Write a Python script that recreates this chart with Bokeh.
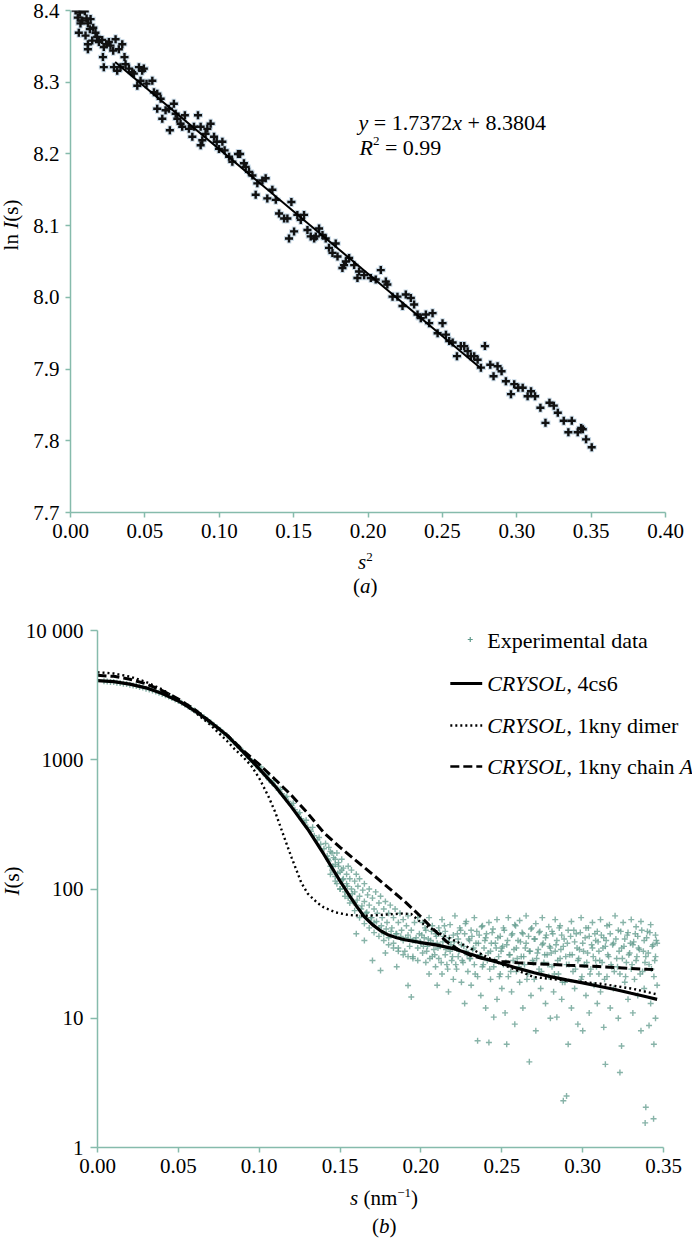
import math
from bokeh.plotting import figure
from bokeh.layouts import column, row
from bokeh.models import Label, FixedTicker, NumeralTickFormatter, Range1d, Div
from bokeh.embed import file_html
from bokeh.resources import INLINE

FONT = "Liberation Serif"
AXIS_COLOR = "#86bbac"
EXP_COLOR = "#5f998b"

# ---------------- panel (a): Guinier plot data ----------------
guinier_s2 = [
    0.0034, 0.0063, 0.0096, 0.0049, 0.0079, 0.0108, 0.0067, 0.0117, 0.0135, 0.0153,
    0.0056, 0.0101, 0.0130, 0.0168, 0.0179, 0.0117, 0.0117, 0.0146, 0.0191, 0.0213,
    0.0242, 0.0258, 0.0224, 0.0303, 0.0269, 0.0287, 0.0348, 0.0325, 0.0363, 0.0218,
    0.0224, 0.0292, 0.0314, 0.0336, 0.0370, 0.0393, 0.0415, 0.0426, 0.0460, 0.0482,
    0.0493, 0.0449, 0.0471, 0.0511, 0.0550, 0.0561, 0.0583, 0.0606, 0.0583, 0.0617,
    0.0639, 0.0662, 0.0668, 0.0695, 0.0707, 0.0718, 0.0740, 0.0751, 0.0769, 0.0796,
    0.0819, 0.0830, 0.0857, 0.0875, 0.0886, 0.0908, 0.0920, 0.0942, 0.0875, 0.0965,
    0.0983, 0.0998, 0.1021, 0.1036, 0.1066, 0.1088, 0.1126, 0.1140, 0.1166, 0.1178,
    0.1200, 0.1223, 0.1245, 0.1256, 0.1290, 0.1312, 0.1323, 0.1357, 0.1380, 0.1402,
    0.1436, 0.1458, 0.1469, 0.1485, 0.1503, 0.1525, 0.1548, 0.1570, 0.1593, 0.1615,
    0.1638, 0.1649, 0.1671, 0.1694, 0.1716, 0.1738, 0.1761, 0.1783, 0.1795, 0.1828,
    0.1839, 0.1851, 0.1873, 0.1907, 0.1940, 0.1974, 0.2019, 0.2052, 0.2086, 0.2120,
    0.1929, 0.2130, 0.2165, 0.2198, 0.2232, 0.2254, 0.2288, 0.2310, 0.2333, 0.2355,
    0.2389, 0.2411, 0.2434, 0.2468, 0.2501, 0.2524, 0.2546, 0.2569, 0.2598, 0.2624,
    0.2647, 0.2670, 0.2692, 0.2714, 0.2737, 0.2759, 0.2786, 0.2822, 0.2844, 0.2871,
    0.2898, 0.2927, 0.2961, 0.2983, 0.3010, 0.3040, 0.3073, 0.3096, 0.3123, 0.3159,
    0.3193, 0.3220, 0.3249, 0.3276, 0.3316, 0.3347, 0.3370, 0.3410, 0.3433, 0.3444,
    0.3466, 0.3504,
]
guinier_lnI = [
    8.400, 8.397, 8.399, 8.390, 8.386, 8.389, 8.382, 8.382, 8.388, 8.376,
    8.369, 8.365, 8.374, 8.369, 8.363, 8.353, 8.346, 8.358, 8.356, 8.359,
    8.353, 8.356, 8.349, 8.360, 8.351, 8.344, 8.353, 8.346, 8.335, 8.335,
    8.321, 8.321, 8.316, 8.321, 8.325, 8.319, 8.314, 8.312, 8.321, 8.316,
    8.319, 8.295, 8.302, 8.298, 8.302, 8.286, 8.284, 8.277, 8.263, 8.249,
    8.261, 8.263, 8.233, 8.270, 8.256, 8.249, 8.242, 8.238, 8.254, 8.235,
    8.224, 8.238, 8.254, 8.238, 8.219, 8.228, 8.235, 8.242, 8.212, 8.224,
    8.217, 8.207, 8.217, 8.205, 8.196, 8.189, 8.200, 8.200, 8.187, 8.182,
    8.175, 8.170, 8.143, 8.159, 8.163, 8.166, 8.138, 8.150, 8.136, 8.117,
    8.110, 8.110, 8.082, 8.133, 8.092, 8.115, 8.108, 8.115, 8.094, 8.085,
    8.082, 8.085, 8.096, 8.087, 8.082, 8.069, 8.062, 8.075, 8.057, 8.041,
    8.045, 8.050, 8.055, 8.045, 8.036, 8.031, 8.027, 8.025, 8.038, 8.022,
    8.027, 8.018, 8.001, 8.001, 7.988, 8.004, 7.999, 7.990, 7.976, 7.971,
    7.976, 7.964, 7.978, 7.950, 7.964, 7.948, 7.939, 7.937, 7.918, 7.932,
    7.932, 7.925, 7.918, 7.918, 7.913, 7.902, 7.932, 7.906, 7.890, 7.904,
    7.897, 7.883, 7.865, 7.879, 7.874, 7.874, 7.862, 7.869, 7.862, 7.846,
    7.825, 7.853, 7.849, 7.839, 7.828, 7.812, 7.828, 7.812, 7.818, 7.816,
    7.802, 7.791,
]
fit_slope = 1.7372
fit_intercept = 8.3804
fit_r2 = 0.99
fit_range = [0.03, 0.276]
a_xticks = [0.0, 0.05, 0.10, 0.15, 0.20, 0.25, 0.30, 0.35, 0.40]
a_yticks = [7.7, 7.8, 7.9, 8.0, 8.1, 8.2, 8.3, 8.4]

# ---------------- panel (b): scattering curves ----------------
exp_s_low = [
    0.004, 0.006, 0.008, 0.010, 0.012, 0.014, 0.016, 0.018, 0.020, 0.022,
    0.024, 0.026, 0.028, 0.030, 0.032, 0.034, 0.036, 0.038, 0.040, 0.042,
    0.044, 0.046, 0.048, 0.050, 0.052, 0.054, 0.056, 0.058, 0.060, 0.062,
    0.064, 0.066, 0.068, 0.070, 0.072, 0.074, 0.076, 0.078, 0.080, 0.082,
    0.084, 0.086, 0.088, 0.090, 0.092, 0.094, 0.096, 0.098, 0.100, 0.102,
    0.104, 0.106, 0.108, 0.110, 0.112, 0.114, 0.116, 0.118, 0.120, 0.122,
    0.124, 0.126, 0.128, 0.130, 0.132, 0.134, 0.136, 0.138, 0.140,
]
exp_I_low = [
    4050, 4030, 4000, 3990, 3950, 3930, 3880, 3850, 3800, 3760,
    3720, 3650, 3620, 3550, 3490, 3430, 3380, 3300, 3230, 3160,
    3090, 3010, 2930, 2850, 2760, 2670, 2580, 2490, 2400, 2310,
    2220, 2120, 2030, 1940, 1860, 1780, 1700, 1610, 1540, 1450,
    1380, 1300, 1230, 1160, 1090, 1020, 960, 900, 850, 800,
    750, 700, 660, 625, 580, 545, 510, 475, 445, 410,
    380, 350, 325, 300, 280, 258, 240, 222, 205,
]
exp_s_band = [0.101, 0.105, 0.109, 0.113, 0.117, 0.121, 0.125, 0.129,
              0.133, 0.137, 0.141, 0.143, 0.145, 0.147, 0.149, 0.151]
exp_I_band = [880, 760, 690, 590, 520, 460, 390, 340,
              300, 250, 225, 210, 190, 170, 150, 140]
exp_s_mid = [
    0.142, 0.143, 0.144, 0.144, 0.145, 0.146, 0.147, 0.147, 0.148, 0.148,
    0.149, 0.150, 0.150, 0.151, 0.152, 0.152, 0.153, 0.154, 0.154, 0.155,
    0.155, 0.156, 0.157, 0.157, 0.158, 0.159, 0.159, 0.160, 0.160, 0.161,
    0.162, 0.162, 0.163, 0.164, 0.165, 0.165, 0.166, 0.167, 0.168, 0.168,
    0.169, 0.170, 0.171, 0.171, 0.172, 0.173, 0.174, 0.174, 0.175, 0.176,
    0.177, 0.177, 0.178, 0.179, 0.180, 0.180, 0.181, 0.182, 0.183, 0.183,
    0.184, 0.185, 0.186, 0.186, 0.187, 0.188, 0.189, 0.189, 0.190, 0.191,
    0.192, 0.192, 0.193, 0.194, 0.195, 0.195, 0.196, 0.197, 0.198, 0.198,
    0.199, 0.200, 0.175, 0.192, 0.194, 0.170, 0.185, 0.160, 0.165, 0.178,
]
exp_I_mid = [
    180, 165, 150, 195, 140, 175, 155, 125, 190, 110,
    160, 135, 100, 170, 120, 145, 95, 130, 110, 150,
    85, 120, 100, 140, 80, 115, 95, 130, 75, 105,
    88, 120, 70, 98, 80, 110, 65, 90, 75, 100,
    60, 85, 70, 55, 95, 65, 78, 50, 88, 60,
    70, 45, 80, 55, 65, 42, 75, 50, 60, 38,
    70, 45, 55, 35, 65, 48, 40, 58, 33, 52,
    44, 62, 36, 48, 40, 30, 55, 42, 35, 60,
    45, 38, 23.4, 17.9, 14.6, 28, 25, 45, 40, 32,
]
exp_s_mid2 = [
    0.1425, 0.1455, 0.1485, 0.1515, 0.1545, 0.1575, 0.1605, 0.1635, 0.1665, 0.1695,
    0.1725, 0.1755, 0.1785, 0.1815, 0.1845, 0.1875, 0.1905, 0.1935, 0.1965, 0.1995,
    0.1440, 0.1470, 0.1500, 0.1530, 0.1560, 0.1590, 0.1620, 0.1650, 0.1680, 0.1710,
    0.1740, 0.1770, 0.1800, 0.1830, 0.1860, 0.1890, 0.1920, 0.1950, 0.1980,
]
exp_I_mid2 = [
    170, 150, 132, 118, 105, 92, 82, 74, 66, 60,
    56, 52, 49, 47, 45, 43, 42, 41, 40, 39,
    130, 115, 100, 88, 78, 68, 60, 54, 50, 46,
    43, 40, 37, 35, 33, 31, 30, 29, 28,
]
exp_s_high = [
    0.201, 0.201, 0.202, 0.203, 0.203, 0.204, 0.205, 0.205, 0.206, 0.207, 0.207, 0.208, 0.209, 0.209, 0.210, 0.210,
    0.211, 0.211, 0.212, 0.213, 0.213, 0.214, 0.215, 0.215, 0.216, 0.217, 0.217, 0.218, 0.218, 0.219, 0.220, 0.220,
    0.221, 0.221, 0.222, 0.223, 0.223, 0.224, 0.225, 0.225, 0.226, 0.227, 0.227, 0.228, 0.228, 0.229, 0.230, 0.230,
    0.231, 0.231, 0.232, 0.233, 0.233, 0.234, 0.235, 0.235, 0.236, 0.237, 0.237, 0.238, 0.238, 0.239, 0.240, 0.240,
    0.241, 0.242, 0.242, 0.243, 0.243, 0.244, 0.245, 0.245, 0.246, 0.247, 0.247, 0.248, 0.249, 0.249, 0.250, 0.250,
    0.251, 0.251, 0.252, 0.253, 0.253, 0.254, 0.254, 0.255, 0.256, 0.256, 0.257, 0.258, 0.258, 0.259, 0.259, 0.260,
    0.261, 0.261, 0.262, 0.263, 0.263, 0.264, 0.265, 0.265, 0.266, 0.267, 0.267, 0.268, 0.268, 0.269, 0.270, 0.270,
    0.271, 0.271, 0.272, 0.273, 0.273, 0.274, 0.275, 0.275, 0.276, 0.277, 0.277, 0.278, 0.279, 0.279, 0.280, 0.280,
    0.281, 0.281, 0.282, 0.283, 0.283, 0.284, 0.284, 0.285, 0.286, 0.286, 0.287, 0.287, 0.288, 0.288, 0.289, 0.290,
    0.290, 0.291, 0.291, 0.292, 0.293, 0.293, 0.294, 0.295, 0.295, 0.296, 0.297, 0.297, 0.298, 0.299, 0.299, 0.300, 0.300,
    0.301, 0.302, 0.302, 0.303, 0.304, 0.304, 0.305, 0.306, 0.306, 0.307, 0.308, 0.308, 0.309, 0.309, 0.310, 0.310,
    0.311, 0.311, 0.312, 0.313, 0.313, 0.314, 0.314, 0.315, 0.315, 0.316, 0.317, 0.317, 0.318, 0.319, 0.319, 0.320,
    0.321, 0.322, 0.322, 0.323, 0.323, 0.324, 0.324, 0.325, 0.326, 0.326, 0.327, 0.328, 0.328, 0.329, 0.330, 0.330,
    0.331, 0.331, 0.332, 0.333, 0.333, 0.334, 0.334, 0.335, 0.336, 0.336, 0.337, 0.338, 0.338, 0.339, 0.339, 0.340,
    0.3386, 0.341, 0.341, 0.342, 0.342, 0.343, 0.3438, 0.344, 0.344, 0.345, 0.345, 0.345, 0.346, 0.346,
]
exp_I_high = [
    55, 32, 42, 27, 48, 36, 60, 22, 40, 30, 52, 34, 45, 25, 38, 18,
    50, 29, 36, 58, 22, 43, 31, 47, 26, 39, 16, 53, 33, 28, 44, 20,
    35, 62, 24, 41, 30, 50, 19, 37, 27, 45, 13, 33, 56, 23, 40, 29,
    48, 18, 34, 26, 60, 38, 21, 6.7, 44, 30, 15, 52, 25, 35, 42, 12,
    28, 6.5, 55, 33, 20, 46, 10.2, 25, 38, 14, 58, 30, 22, 43, 35, 17,
    50, 26, 11, 6.3, 37, 21, 60, 31, 44, 16, 28, 53, 9, 35, 23, 40,
    19, 57, 30, 45, 12, 26, 38, 62, 22, 4.6, 33, 49, 15, 28, 41, 20,
    54, 8.0, 32, 24, 46, 17, 37, 60, 27, 13, 42, 31, 51, 21, 35, 10,
    47, 25, 16, 58, 33, 10.2, 40, 22, 52, 29, 14, 44, 2.3, 36, 19, 26,
    2.5, 6.3, 48, 31, 12, 56, 23, 39, 17, 45, 28, 9, 34, 60, 20, 8.0, 38,
    26, 50, 15, 32, 43, 11, 24, 55, 35, 18, 40, 28, 13, 47, 22, 33,
    58, 16, 27, 42, 8.5, 4.4, 36, 21, 52, 30, 12, 45, 25, 38, 17, 62,
    29, 48, 10, 3.8, 22, 35, 6.1, 55, 19, 41, 27, 14, 46, 32, 24, 58,
    37, 11, 20, 51, 28, 15, 43, 34, 8, 56, 23, 40, 17, 30, 2.05, 47,
    1.55, 8.8, 26, 53, 13, 36, 1.67, 6.3, 21, 44, 30, 10, 18, 38,
]
exp_s_high2 = [
    0.2005, 0.2015, 0.2025, 0.2035, 0.2045, 0.2055, 0.2065, 0.2075, 0.2085, 0.2095,
    0.2105, 0.2115, 0.2125, 0.2135, 0.2145, 0.2155, 0.2165, 0.2175, 0.2185, 0.2195,
    0.2205, 0.2215, 0.2225, 0.2235, 0.2245, 0.2255, 0.2265, 0.2275, 0.2285, 0.2295,
    0.2305, 0.2315, 0.2325, 0.2335, 0.2345, 0.2355, 0.2365, 0.2375, 0.2385, 0.2395,
    0.2405, 0.2415, 0.2425, 0.2435, 0.2445, 0.2455, 0.2465, 0.2475, 0.2485, 0.2495,
    0.2505, 0.2515, 0.2525, 0.2535, 0.2545, 0.2555, 0.2565, 0.2575, 0.2585, 0.2595,
    0.2605, 0.2615, 0.2625, 0.2635, 0.2645, 0.2655, 0.2665, 0.2675, 0.2685, 0.2695,
    0.2705, 0.2715, 0.2725, 0.2735, 0.2745, 0.2755, 0.2765, 0.2775, 0.2785, 0.2795,
    0.2805, 0.2815, 0.2825, 0.2835, 0.2845, 0.2855, 0.2865, 0.2875, 0.2885, 0.2895,
    0.2905, 0.2915, 0.2925, 0.2935, 0.2945, 0.2955, 0.2965, 0.2975, 0.2985, 0.2995,
    0.3005, 0.3015, 0.3025, 0.3035, 0.3045, 0.3055, 0.3065, 0.3075, 0.3085, 0.3095,
    0.3105, 0.3115, 0.3125, 0.3135, 0.3145, 0.3155, 0.3165, 0.3175, 0.3185, 0.3195,
    0.3205, 0.3215, 0.3225, 0.3235, 0.3245, 0.3255, 0.3265, 0.3275, 0.3285, 0.3295,
    0.3305, 0.3315, 0.3325, 0.3335, 0.3345, 0.3355, 0.3365, 0.3375, 0.3385, 0.3395,
    0.3405, 0.3415, 0.3425, 0.3435, 0.3445, 0.3455,
]
exp_I_high2 = [
    44, 36, 50, 33, 41, 29, 47, 38, 31, 43,
    35, 46, 27, 39, 52, 34, 24, 42, 37, 30,
    39, 26, 45, 33, 48, 28, 36, 54, 31, 41,
    29, 43, 35, 22, 47, 38, 31, 51, 26, 40,
    45, 32, 24, 38, 49, 28, 35, 42, 21, 33,
    36, 48, 27, 40, 31, 23, 45, 34, 52, 29,
    25, 39, 46, 30, 35, 20, 43, 33, 50, 27,
    41, 29, 34, 47, 23, 38, 31, 44, 26, 36,
    32, 45, 22, 37, 28, 50, 34, 19, 41, 30,
    38, 26, 43, 31, 48, 24, 35, 29, 46, 21,
    33, 42, 27, 50, 22, 37, 30, 45, 25, 39,
    28, 44, 35, 20, 40, 31, 53, 26, 37, 23,
    41, 25, 33, 47, 29, 36, 21, 44, 31, 38,
    26, 39, 45, 30, 35, 22, 48, 33, 27, 42,
    32, 46, 24, 37, 28, 40,
]

cs6_s = [0.000, 0.010, 0.020, 0.030, 0.040, 0.050, 0.060, 0.070, 0.080, 0.090,
         0.100, 0.110, 0.120, 0.130, 0.140, 0.150, 0.155, 0.160, 0.165, 0.170,
         0.175, 0.180, 0.185, 0.190, 0.200, 0.210, 0.220, 0.230, 0.240, 0.250,
         0.260, 0.270, 0.280, 0.290, 0.300, 0.310, 0.320, 0.330, 0.340, 0.346]
cs6_I = [4090, 4020, 3850, 3600, 3250, 2850, 2400, 1950, 1550, 1150,
         850, 620, 430, 290, 185, 115, 92, 74, 61, 53,
         47.5, 44, 42, 40.5, 38.5, 36.8, 34.6, 31.5, 28.7, 26.5,
         24.3, 22.5, 21.0, 19.8, 18.8, 17.7, 16.7, 15.6, 14.6, 14.0]

dimer_s = [0.000, 0.010, 0.020, 0.030, 0.040, 0.050, 0.060, 0.070, 0.080, 0.085,
           0.090, 0.095, 0.100, 0.1057, 0.110, 0.116, 0.120, 0.126, 0.130, 0.136,
           0.140, 0.147, 0.155, 0.165, 0.175, 0.188, 0.194, 0.200, 0.212, 0.229,
           0.249, 0.270, 0.290, 0.311, 0.331, 0.346]
dimer_I = [4750, 4650, 4400, 4000, 3500, 2900, 2350, 1850, 1400, 1200,
           1050, 900, 720, 520, 390, 240, 175, 112, 92, 78,
           72, 66, 63, 62, 63, 64.5, 64, 55, 45, 35.5,
           26.4, 20.8, 19.6, 18.5, 16.9, 15.3]

chainA_s = [0.000, 0.010, 0.020, 0.030, 0.040, 0.050, 0.060, 0.070, 0.080, 0.090,
            0.100, 0.110, 0.120, 0.130, 0.140, 0.150, 0.160, 0.170, 0.180, 0.190,
            0.196, 0.200, 0.206, 0.216, 0.223, 0.231, 0.240, 0.250, 0.260, 0.270,
            0.280, 0.290, 0.300, 0.310, 0.320, 0.330, 0.340, 0.346]
chainA_I = [4500, 4420, 4200, 3870, 3430, 2950, 2450, 1950, 1550, 1180,
            920, 700, 530, 385, 272, 210, 165, 130, 102, 80,
            68, 61, 51, 39, 34, 30.5, 28.6, 27.5, 26.9, 26.4,
            26.1, 25.7, 25.4, 25.1, 24.7, 24.3, 23.9, 23.7]

b_xticks = [0.0, 0.05, 0.10, 0.15, 0.20, 0.25, 0.30, 0.35]
b_yticks = [1, 10, 100, 1000, 10000]
b_ylabels = {1: "1", 10: "10", 100: "100", 1000: "1000", 10000: "10 000"}

legend_names = ["Experimental data", ", 4cs6", ", 1kny dimer", ", 1kny chain"]

DOT = "2 3"
DASH = "9 4"


# ---------------- helpers ----------------
def pos1(px, py):
    """page pixel -> data coords of panel (a) (annotation placement)"""
    return ((px - 70) / 595 * 0.4, 8.4 - (py - 10) / 502 * 0.7)


def pos2(px, py):
    """page pixel -> data coords of panel (b) (annotation placement)"""
    return ((px - 95) / 568 * 0.35, 10 ** (4 - (py - 630) / 517 * 4))


def add_text(p, xy, text, size=21, style="normal"):
    p.add_layout(Label(x=xy[0], y=xy[1], text=text, text_font=FONT,
                       text_font_size=f"{size}px", text_font_style=style,
                       text_color="black", text_align="left",
                       text_baseline="middle"))


def html_box(width, height, spans):
    return (f'<div style="position:relative;width:{width}px;height:{height}px;'
            f"font-family:'Liberation Serif',serif;font-size:21px;line-height:21px;"
            f'color:#000;white-space:nowrap;">' + "".join(spans) + "</div>")


def span_at(left, top, inner):
    return f'<span style="position:absolute;left:{left}px;top:{top}px;">{inner}</span>'


def span_rot(cx, cy, inner):
    return (f'<span style="position:absolute;left:{cx}px;top:{cy}px;'
            f'transform:translate(-50%,-50%) rotate(-90deg);">{inner}</span>')


SUP = '<span style="font-size:13px;position:relative;top:-8px;">{}</span>'


def style(p, ytick_out, ystandoff):
    p.xgrid.visible = False
    p.ygrid.visible = False
    p.outline_line_color = None
    p.background_fill_color = "white"
    p.border_fill_color = None
    for ax in list(p.xaxis) + list(p.yaxis):
        ax.axis_line_color = AXIS_COLOR
        ax.axis_line_width = 1.5
        ax.major_tick_line_color = AXIS_COLOR
        ax.major_tick_line_width = 1.5
        ax.major_tick_in = 0
        ax.minor_tick_line_color = None
        ax.major_label_text_font = FONT
        ax.major_label_text_font_size = "21px"
        ax.major_label_text_color = "black"
    p.xaxis.major_tick_out = 5
    p.xaxis.major_label_standoff = 6
    p.yaxis.major_tick_out = ytick_out
    p.yaxis.major_label_standoff = ystandoff


# ---------------- panel (a) ----------------
p1 = figure(width=668, height=550, x_range=Range1d(0, 0.40), y_range=Range1d(7.7, 8.4),
            output_backend="svg", toolbar_location=None, margin=0,
            min_border_left=46, min_border_right=27, min_border_top=10, min_border_bottom=38)
style(p1, 5, 6)
p1.xaxis.ticker = FixedTicker(ticks=a_xticks)
p1.xaxis.formatter = NumeralTickFormatter(format="0.00")
p1.yaxis.ticker = FixedTicker(ticks=a_yticks)
p1.yaxis.formatter = NumeralTickFormatter(format="0.0")

p1.scatter(guinier_s2, guinier_lnI, marker="cross", size=10, line_width=4.5,
           color="#c3d6e4", alpha=0.9)
p1.scatter(guinier_s2, guinier_lnI, marker="cross", size=8, line_width=2.4, color="#111111")
fit_y = [fit_intercept - fit_slope * x for x in fit_range]
p1.line(fit_range, fit_y, line_color="black", line_width=2)

add_text(p1, pos1(358, 122), "y", 22, "italic")
add_text(p1, pos1(373.3, 122), "= 1.7372", 22)
add_text(p1, pos1(451.7, 122), "x", 22, "italic")
add_text(p1, pos1(467.0, 122), f"+ {fit_intercept:.4f}", 22)
add_text(p1, pos1(359, 147), "R", 22, "italic")
add_text(p1, pos1(372.4, 140), "2", 13)
add_text(p1, pos1(384.4, 147), f"= {fit_r2:.2f}", 22)

ylab_a = Div(text=html_box(24, 550, [span_rot(11, 225, "ln <i>I</i>(s)")]),
             width=24, height=550, margin=0)
xlab_a = Div(text=html_box(692, 50, [span_at(358, 2.4, "<i>s</i>" + SUP.format("2")),
                                     span_at(353, 26.4, "(<i>a</i>)")]),
             width=692, height=50, margin=0)
root_a = column(row(ylab_a, p1, margin=0), xlab_a, margin=0)

# ---------------- panel (b) ----------------
x_end = 0.35 * (692 - 95) / 568
p2 = figure(width=670, height=585, x_range=Range1d(0, x_end), y_range=Range1d(1, 10000),
            y_axis_type="log", output_backend="svg", toolbar_location=None, margin=0,
            min_border_left=73, min_border_right=0, min_border_top=30, min_border_bottom=38)
style(p2, 7, 7)
p2.xaxis.bounds = (0, 0.35)
p2.xaxis.ticker = FixedTicker(ticks=b_xticks)
p2.xaxis.formatter = NumeralTickFormatter(format="0.00")
p2.yaxis.ticker = FixedTicker(ticks=b_yticks)
p2.yaxis.major_label_overrides = b_ylabels

for xs, ys in ((exp_s_low, exp_I_low), (exp_s_band, exp_I_band),
               (exp_s_mid, exp_I_mid), (exp_s_mid2, exp_I_mid2),
               (exp_s_high, exp_I_high), (exp_s_high2, exp_I_high2)):
    p2.scatter(xs, ys, marker="cross", size=6, line_width=1.4, color=EXP_COLOR, alpha=0.75)

p2.line(chainA_s, chainA_I, line_color="black", line_width=3, line_dash=DASH)
p2.line(dimer_s, dimer_I, line_color="black", line_width=2.4, line_dash=DOT)
p2.line(cs6_s, cs6_I, line_color="black", line_width=3.2)

# legend (manual, for italic program names)
mx, my = pos2(469, 639)
p2.scatter([mx], [my], marker="cross", size=5, line_width=1.2, color=EXP_COLOR)
add_text(p2, pos2(486, 640), legend_names[0], 22)
rows = [(683, None), (725, DOT), (766, DASH)]
for (py, dash), name in zip(rows, legend_names[1:]):
    x0, y0 = pos2(449, py)
    x1, _ = pos2(481, py)
    if dash is None:
        p2.line([x0, x1], [y0, y0], line_color="black", line_width=3.2)
    else:
        p2.line([x0, x1], [y0, y0], line_color="black", line_width=2.6, line_dash=dash)
    add_text(p2, pos2(486, py), "CRYSOL", 22, "italic")
    add_text(p2, pos2(565.5, py), name, 22)
add_text(p2, pos2(679.2, 766), "A", 22, "italic")

ylab_b = Div(text=html_box(22, 585, [span_rot(12, 281, "<i>I</i>(s)")]),
             width=22, height=585, margin=0)
xlab_b = Div(text=html_box(692, 57, [span_at(350, 3.4, "<i>s</i> (nm" + SUP.format("\u22121") + ")"),
                                     span_at(372, 31.4, "(<i>b</i>)")]),
             width=692, height=57, margin=0)
root_b = column(row(ylab_b, p2, margin=0), xlab_b, margin=0)

open("out.html", "w").write(file_html([root_a, root_b], INLINE))
